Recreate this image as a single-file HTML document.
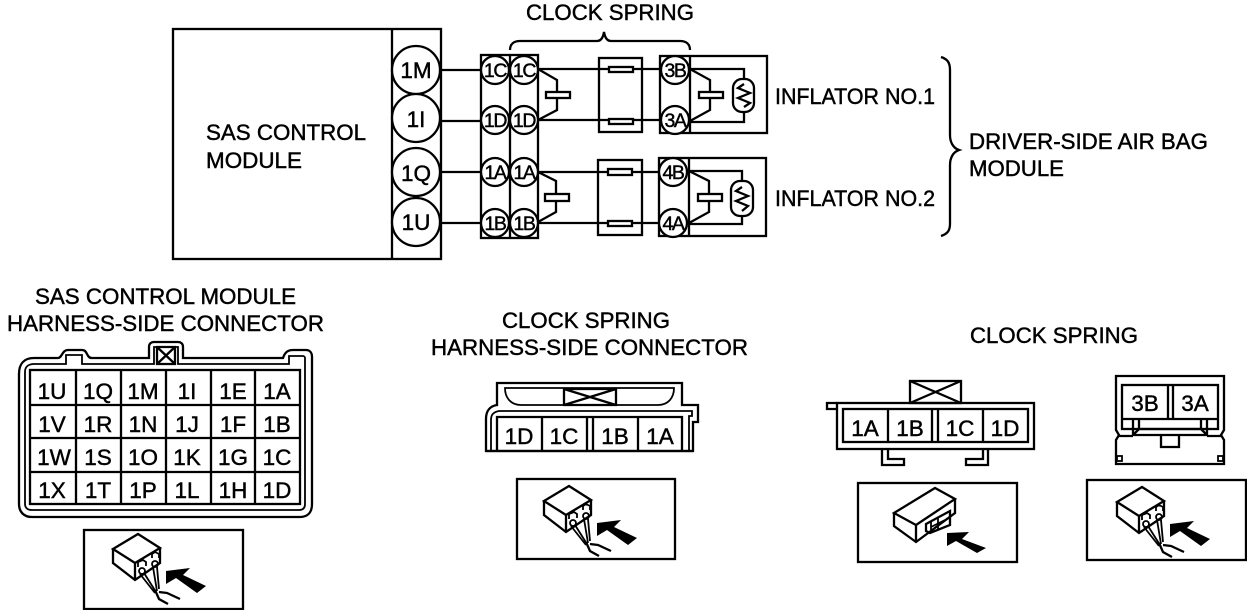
<!DOCTYPE html>
<html><head><meta charset="utf-8"><style>
html,body{margin:0;padding:0;background:#fff}
svg{display:block}
text{font-family:"Liberation Sans",sans-serif;font-size:22.5px;fill:#000;stroke:#000;stroke-width:.45}
.m{text-anchor:middle}
.s{font-size:19.5px;letter-spacing:-1.4px}
.l{fill:none;stroke:#000;stroke-width:2.3}
.t{fill:none;stroke:#000;stroke-width:1.8}
.c{fill:#fff;stroke:#000;stroke-width:2.3}
</style></head><body>
<svg width="1247" height="610" viewBox="0 0 1247 610" xmlns="http://www.w3.org/2000/svg">
<defs>
<g id="plug">
<path class="l" d="M0 15L25 0L47 14L22 29ZM0 15V29L22 46L47 29V14M22 29V46"/>
<path class="t" d="M25 33V28L30 26L33 28V32M39 24V20L42 18L46 20V24"/>
<circle class="t" cx="29" cy="37" r="3"/><circle class="t" cx="42" cy="30" r="3"/>
<path class="t" d="M27 40L42 59M31 39L43 58M40 33L44 57M44 33L46 55"/>
<path class="l" d="M42 56L46 65L55 70M46 58L54 59L67 65"/>
<path d="M53 37L77 34L70 41L93 52L84 59L63 44L53 50Z" fill="#000"/>
</g>
</defs>

<!-- top labels -->
<text x="526" y="20" textLength="168" lengthAdjust="spacingAndGlyphs">CLOCK SPRING</text>
<path class="l" d="M510 50C510 44 514 41 520 41H597C601 41 603 38 604 32C605 38 607 41 611 41H680C686 41 690 44 690 50"/>

<!-- SAS module -->
<rect class="l" x="173" y="29" width="268" height="230"/>
<line class="l" x1="392" y1="29" x2="392" y2="259"/>
<text x="206" y="140" textLength="160" lengthAdjust="spacingAndGlyphs">SAS CONTROL</text>
<text x="206" y="168" textLength="96" lengthAdjust="spacingAndGlyphs">MODULE</text>
<line class="l" x1="441" y1="70" x2="481" y2="70"/>
<line class="l" x1="441" y1="121" x2="481" y2="121"/>
<line class="l" x1="441" y1="172" x2="481" y2="172"/>
<line class="l" x1="441" y1="223" x2="481" y2="223"/>
<circle class="c" cx="416" cy="70" r="24"/><circle class="c" cx="416" cy="118" r="24"/>
<circle class="c" cx="416" cy="172" r="24"/><circle class="c" cx="416" cy="222" r="24"/>
<text class="m" x="416" y="78">1M</text><text class="m" x="416" y="127">1I</text>
<text class="m" x="416" y="181">1Q</text><text class="m" x="416" y="230">1U</text>

<!-- clock spring connector -->
<rect class="l" x="481" y="55" width="57" height="183"/>
<line class="l" x1="510" y1="55" x2="510" y2="238"/>
<g fill="#fff" stroke="#000" stroke-width="2.3">
<circle cx="495" cy="70" r="14"/><circle cx="524" cy="70" r="14"/>
<circle cx="495" cy="120" r="14"/><circle cx="524" cy="120" r="14"/>
<circle cx="495" cy="172" r="14"/><circle cx="524" cy="172" r="14"/>
<circle cx="495" cy="223" r="14"/><circle cx="524" cy="223" r="14"/>
</g>
<text class="m s" x="495" y="77">1C</text><text class="m s" x="524" y="77">1C</text>
<text class="m s" x="495" y="127">1D</text><text class="m s" x="524" y="127">1D</text>
<text class="m s" x="495" y="179">1A</text><text class="m s" x="524" y="179">1A</text>
<text class="m s" x="495" y="230">1B</text><text class="m s" x="524" y="230">1B</text>

<!-- upper channel -->
<rect class="l" x="599" y="58" width="43" height="74"/>
<rect class="l" x="660" y="56" width="107" height="77"/>
<line class="l" x1="690" y1="56" x2="690" y2="133"/>
<path class="l" d="M538 69H661M538 120H661M538 69L557 80V110L538 120"/>
<rect class="c" x="546" y="92" width="24" height="6"/>
<rect class="c" x="609" y="67" width="24" height="5"/><rect class="c" x="609" y="119" width="24" height="5"/>
<path class="l" d="M690 69H744V79M744 112V122H690M690 69L710 80V110L690 121"/>
<rect class="c" x="699" y="92" width="24" height="6"/>
<rect class="c" x="733" y="79" width="21" height="33" rx="9"/>
<path class="l" d="M744 84L738 88L750 93L738 98L750 103L744 107"/>
<circle class="c" cx="675" cy="70" r="14"/><circle class="c" cx="675" cy="120" r="14"/>
<text class="m s" x="675" y="77">3B</text><text class="m s" x="675" y="127">3A</text>
<text x="775" y="104" textLength="160" lengthAdjust="spacingAndGlyphs">INFLATOR NO.1</text>

<!-- lower channel -->
<rect class="l" x="598" y="160" width="44" height="75"/>
<rect class="l" x="659" y="158" width="107" height="78"/>
<line class="l" x1="689" y1="158" x2="689" y2="236"/>
<path class="l" d="M538 172H660M538 223H660M538 172L556 181V212L538 222"/>
<rect class="c" x="545" y="194" width="24" height="7"/>
<rect class="c" x="608" y="169" width="24" height="6"/><rect class="c" x="608" y="221" width="24" height="5"/>
<path class="l" d="M689 171H742V181M742 216V224H689M689 171L709 181V212L689 223"/>
<rect class="c" x="698" y="194" width="24" height="7"/>
<rect class="c" x="731" y="181" width="22" height="35" rx="9"/>
<path class="l" d="M742 187L736 191L748 196L736 201L748 206L742 211"/>
<circle class="c" cx="673" cy="172" r="14"/><circle class="c" cx="673" cy="223" r="14"/>
<text class="m s" x="673" y="179">4B</text><text class="m s" x="673" y="230">4A</text>
<text x="775" y="206" textLength="160" lengthAdjust="spacingAndGlyphs">INFLATOR NO.2</text>

<!-- brace -->
<path class="l" d="M941 57C947 59 950 62 950 70V135C950 142 953 148 959 150C953 152 950 158 950 165V224C950 231 947 234 941 236"/>
<text x="969" y="149" textLength="239" lengthAdjust="spacingAndGlyphs">DRIVER-SIDE AIR BAG</text>
<text x="969" y="176" textLength="95" lengthAdjust="spacingAndGlyphs">MODULE</text>

<!-- SAS connector -->
<text x="35" y="304" textLength="261" lengthAdjust="spacingAndGlyphs">SAS CONTROL MODULE</text>
<text x="7" y="331" textLength="317" lengthAdjust="spacingAndGlyphs">HARNESS-SIDE CONNECTOR</text>
<path class="l" d="M19 374C19 364 24 358 34 358H58C62 358 62 350 68 350H82C88 350 86 358 92 358H149V347C149 344 151 342 154 342H178C181 342 183 344 183 347V358H283C285 352 288 350 293 350H306C310 350 312 353 312 357V504C312 512 308 517 300 517H32C24 517 19 512 19 504Z"/>
<path class="t" d="M25 372C25 367 28 364 34 364H66V355H82V364H154V347H178V364H289V356H303C304 356 305 357 305 358V504C305 508 303 510 299 510H32C28 510 25 508 25 504Z"/>
<rect class="l" x="30" y="370" width="270" height="134" stroke-width="2.5"/>
<path class="l" d="M76 370V504M121 370V504M166 370V504M211 370V504M255 370V504M30 405H300M30 438H300M30 472H300"/>
<path class="l" d="M157 347H175V364H157ZM157 347L175 364M175 347L157 364"/>
<g>
<text class="m" x="52" y="399">1U</text><text class="m" x="98" y="399">1Q</text><text class="m" x="143" y="399">1M</text><text class="m" x="187" y="399">1I</text><text class="m" x="233" y="399">1E</text><text class="m" x="277" y="399">1A</text>
<text class="m" x="52" y="432">1V</text><text class="m" x="98" y="432">1R</text><text class="m" x="143" y="432">1N</text><text class="m" x="187" y="432">1J</text><text class="m" x="233" y="432">1F</text><text class="m" x="277" y="432">1B</text>
<text class="m" x="54" y="465">1W</text><text class="m" x="98" y="465">1S</text><text class="m" x="143" y="465">1O</text><text class="m" x="187" y="465">1K</text><text class="m" x="233" y="465">1G</text><text class="m" x="277" y="465">1C</text>
<text class="m" x="52" y="498">1X</text><text class="m" x="98" y="498">1T</text><text class="m" x="143" y="498">1P</text><text class="m" x="187" y="498">1L</text><text class="m" x="233" y="498">1H</text><text class="m" x="277" y="498">1D</text>
</g>
<rect class="l" x="84" y="530" width="159" height="79"/>
<use href="#plug" x="113" y="534"/>

<!-- clock spring harness connector -->
<text x="502" y="328" textLength="168" lengthAdjust="spacingAndGlyphs">CLOCK SPRING</text>
<text x="431" y="355" textLength="317" lengthAdjust="spacingAndGlyphs">HARNESS-SIDE CONNECTOR</text>
<path class="l" d="M486 451V419C486 411 490 406 497 405V383H682V405H698V422H693V451Z"/>
<path class="t" d="M491 451V420C491 414 494 412 499 411H692V416H689V451"/>
<path class="t" d="M505 388H674C674 398 668 405 658 405H521C511 405 505 398 505 388Z"/>
<path class="l" d="M564 389H616V405H564ZM564 389L616 405M616 389L564 405"/>
<path class="l" d="M497 451V417H682V451M486 451H693M542 417V451M587 417V451M593 417V451M638 417V451"/>
<text class="m" x="519" y="444">1D</text><text class="m" x="564" y="444">1C</text><text class="m" x="615" y="444">1B</text><text class="m" x="660" y="444">1A</text>
<rect class="l" x="517" y="479" width="158" height="80"/>
<use href="#plug" x="544" y="486"/>

<!-- clock spring connector 2 -->
<text x="970" y="343" textLength="168" lengthAdjust="spacingAndGlyphs">CLOCK SPRING</text>
<rect class="l" x="910" y="381" width="51" height="22"/>
<path class="l" d="M910 381L961 403M961 381L910 403"/>
<rect class="l" x="837" y="403" width="197" height="46"/>
<path class="l" d="M837 403H827V409H837"/>
<rect class="l" x="843" y="409" width="185" height="33"/>
<path class="l" d="M888 409V442M932 409V442M938 409V442M983 409V442"/>
<path class="l" d="M882 449V465H904V459H888V449M988 449V465H966V459H983V449"/>
<text class="m" x="865" y="436">1A</text><text class="m" x="910" y="436">1B</text><text class="m" x="960" y="436">1C</text><text class="m" x="1005" y="436">1D</text>
<rect class="l" x="858" y="483" width="159" height="79"/>
<path class="l" d="M894 513L935 488L955 499L916 525ZM894 513V526L916 542L955 513V499M916 525V542"/>
<path class="l" d="M926 524L950 511V525L930 533L926 531Z"/>
<path class="t" d="M931 522V533M931 527L949 518M938 518V530"/>
<path d="M947 533L969 532L962 539L986 548L977 553L956 541L947 546Z" fill="#000"/>

<!-- clock spring connector 3 -->
<path class="l" d="M1116 376H1224V430L1221 435L1224 440V464H1116V440L1119 435L1116 430Z"/>
<rect class="l" x="1122" y="385" width="96" height="44"/>
<path class="l" d="M1168 385V419M1173 385V419M1122 419H1218"/>
<path class="l" d="M1133 419V435H1207V419M1139 419V429H1201V419M1133 435L1139 429M1207 435L1201 429"/>
<path class="l" d="M1119 436H1133M1207 436H1221"/>
<path class="l" d="M1161 436V447H1179V436"/>
<rect class="t" x="1117" y="456" width="5" height="5"/><rect class="t" x="1218" y="456" width="5" height="5"/>
<text class="m" x="1145" y="411">3B</text><text class="m" x="1195" y="411">3A</text>
<rect class="l" x="1087" y="480" width="159" height="80"/>
<use href="#plug" x="1117" y="487"/>
</svg>
</body></html>
